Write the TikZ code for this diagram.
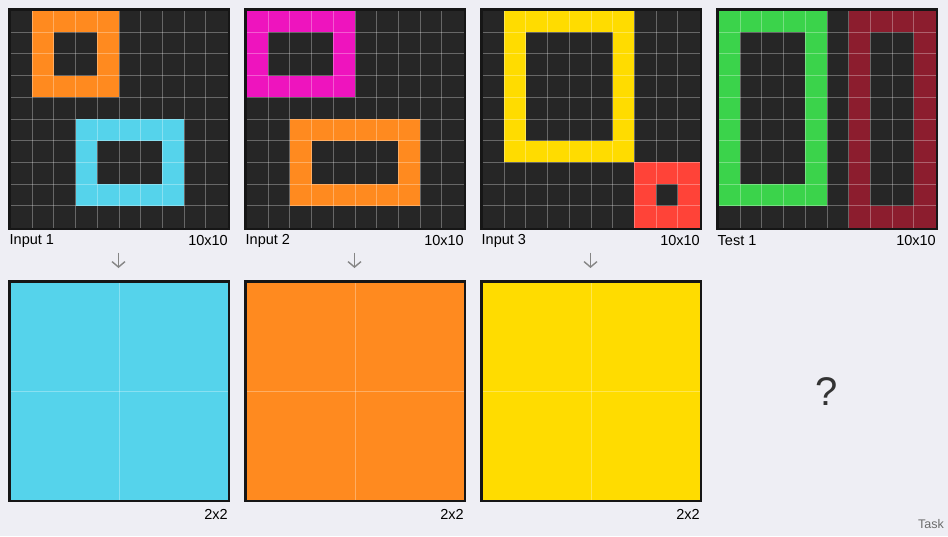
\documentclass[tikz,border=0pt]{standalone}
\usepackage{fontspec}
\setmainfont{Liberation Sans}
\usetikzlibrary{arrows.meta}
\definecolor{bgc}{HTML}{EEEEF4}
\definecolor{dk}{HTML}{262626}
\definecolor{frm}{HTML}{161616}
\definecolor{cor}{HTML}{FF8A1F}
\definecolor{ccy}{HTML}{55D3EB}
\definecolor{cmg}{HTML}{EE14BE}
\definecolor{cye}{HTML}{FFDC00}
\definecolor{crd}{HTML}{FF4338}
\definecolor{cgr}{HTML}{3BD34B}
\definecolor{cmr}{HTML}{8C1D2E}
\newcommand{\cs}{21.7}
% x0 y0 c1 r1 c2 r2 color
\newcommand{\fc}[7]{\fill[#7] ({#1+#3*\cs},{#2+#4*\cs}) rectangle ({#1+(#5+1)*\cs},{#2+(#6+1)*\cs});}
\newcommand{\gridlines}[2]{%
  \foreach \k in {1,...,9}{
    \draw[gl] ({#1+\k*\cs},{#2}) -- ({#1+\k*\cs},{#2+10*\cs});
    \draw[gl] ({#1},{#2+\k*\cs}) -- ({#1+10*\cs},{#2+\k*\cs});
  }
  \draw[frame] ({#1-1.25},{#2-1.25}) rectangle ({#1+10*\cs+1.25},{#2+10*\cs+1.25});
}
\newcommand{\outgrid}[2]{%
  \fill[#2] ({#1+2.5},282.5) rectangle ({#1+219.5},499.5);
  \draw[gl] ({#1+111},282.5) -- ({#1+111},499.5);
  \draw[gl] ({#1+2.5},391) -- ({#1+219.5},391);
  \draw[frame] ({#1+1.25},281.25) rectangle ({#1+220.75},500.75);
}
\tikzset{
  gl/.style={draw=white, draw opacity=0.3, line width=0.9pt},
  frame/.style={draw=frm, line width=2.5pt},
  lbl/.style={font=\fontsize{14.5}{16}\selectfont, text=black, inner sep=0pt},
  arr/.style={draw=black!48, line width=1.4pt, -{Straight Barb[length=5.5pt,width=13pt,line width=1.4pt]}},
}
\begin{document}
\begin{tikzpicture}[x=1pt,y=-1pt]
\fill[bgc] (0,0) rectangle (948,536);
\useasboundingbox (0,0) rectangle (948,536);
% ---------- Input 1
\def\X{10.5}\def\Y{10.5}
\fc{\X}{\Y}{0}{0}{9}{9}{dk}
\fc{\X}{\Y}{1}{0}{4}{3}{cor}
\fc{\X}{\Y}{2}{1}{3}{2}{dk}
\fc{\X}{\Y}{3}{5}{7}{8}{ccy}
\fc{\X}{\Y}{4}{6}{6}{7}{dk}
\gridlines{\X}{\Y}
% ---------- Input 2
\def\X{246.5}
\fc{\X}{\Y}{0}{0}{9}{9}{dk}
\fc{\X}{\Y}{0}{0}{4}{3}{cmg}
\fc{\X}{\Y}{1}{1}{3}{2}{dk}
\fc{\X}{\Y}{2}{5}{7}{8}{cor}
\fc{\X}{\Y}{3}{6}{6}{7}{dk}
\gridlines{\X}{\Y}
% ---------- Input 3
\def\X{482.5}
\fc{\X}{\Y}{0}{0}{9}{9}{dk}
\fc{\X}{\Y}{1}{0}{6}{6}{cye}
\fc{\X}{\Y}{2}{1}{5}{5}{dk}
\fc{\X}{\Y}{7}{7}{9}{9}{crd}
\fc{\X}{\Y}{8}{8}{8}{8}{dk}
\gridlines{\X}{\Y}
% ---------- Test 1
\def\X{718.5}
\fc{\X}{\Y}{0}{0}{9}{9}{dk}
\fc{\X}{\Y}{0}{0}{4}{8}{cgr}
\fc{\X}{\Y}{1}{1}{3}{7}{dk}
\fc{\X}{\Y}{6}{0}{9}{9}{cmr}
\fc{\X}{\Y}{7}{1}{8}{8}{dk}
\gridlines{\X}{\Y}
% labels
\node[lbl, anchor=west] (l1) at (9.5,241) {Input 1};
\node[lbl, anchor=east] (s1) at (228,241) {10x10};
\node[lbl, anchor=west] (l2) at (245.5,241) {Input 2};
\node[lbl, anchor=east] (s2) at (464,241) {10x10};
\node[lbl, anchor=west] (l3) at (481.5,241) {Input 3};
\node[lbl, anchor=east] (s3) at (700,241) {10x10};
\node[lbl, anchor=west] (l4) at (717.5,241) {Test 1};
\node[lbl, anchor=east] (s4) at (936,241) {10x10};
% arrows
\foreach \i/\xx in {1/118.5,2/354.5,3/590.5}{
  \coordinate (a\i) at (\xx,252.5);
  \coordinate (b\i) at (\xx,268);
  \draw[arr] (a\i) -- (b\i);
}
% outputs
\outgrid{8}{ccy}
\outgrid{244}{cor}
\outgrid{480}{cye}
\node[lbl, anchor=east] (o1) at (228,514) {2x2};
\node[lbl, anchor=east] (o2) at (464,514) {2x2};
\node[lbl, anchor=east] (o3) at (700,514) {2x2};
\node[inner sep=0pt, text=black!80, font=\fontsize{40}{44}\selectfont] (q) at (827,392) {?};
\node[inner sep=0pt, anchor=east, text=black!58, font=\fontsize{12.5}{14}\selectfont] (task) at (944,524) {Task};
\end{tikzpicture}
\end{document}
